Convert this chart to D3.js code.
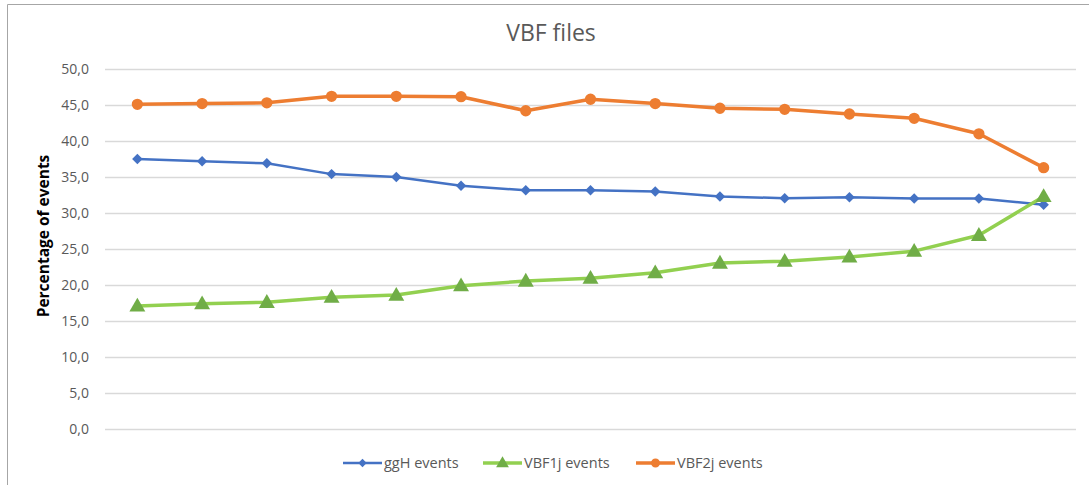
<!DOCTYPE html>
<html><head><meta charset="utf-8">
<script src="https://cdn.jsdelivr.net/npm/d3@7"></script>
<style>body{margin:0;background:#fff;}svg{display:block;font-family:"Open Sans","Liberation Sans",sans-serif;}</style>
</head><body>
<svg id="c" width="1089" height="485"></svg>
<script>
const categories = d3.range(1, 16).map(String);
const ggH = [37.5, 37.2, 36.9, 35.4, 35.0, 33.8, 33.15, 33.15, 33.0, 32.3, 32.05, 32.2, 32.0, 32.0, 31.15];
const VBF1j = [17.1, 17.4, 17.6, 18.3, 18.6, 19.9, 20.55, 20.95, 21.7, 23.05, 23.3, 23.9, 24.7, 26.9, 32.3];
const VBF2j = [45.1, 45.2, 45.3, 46.2, 46.2, 46.15, 44.2, 45.8, 45.2, 44.55, 44.4, 43.75, 43.15, 41.0, 36.3];
const yTicks = [0, 5, 10, 15, 20, 25, 30, 35, 40, 45, 50];
const seriesNames = ["ggH events", "VBF1j events", "VBF2j events"];

const svg = d3.select("#c");
// frame
svg.append("path").attr("d", "M7.5,485 V4.5 H1089").attr("fill", "none").attr("stroke", "#a6a6a6").attr("stroke-width", 1);

const x = d3.scaleBand().domain(categories).range([105, 1076]);
const y = d3.scaleLinear().domain([0, 50]).range([429, 69]);
const fmt = d => d.toFixed(1).replace(".", ",");

// gridlines
const yAxis = d3.axisLeft(y).tickValues(yTicks).tickFormat(fmt).tickSize(-(1076 - 105)).tickPadding(16);
const ga = svg.append("g").attr("transform", "translate(105,0)").call(yAxis);
ga.select(".domain").remove();
ga.selectAll(".tick line").attr("stroke", "#d9d9d9").attr("stroke-width", 1.3);
ga.selectAll(".tick text").attr("fill", "#595959").attr("font-size", 14).attr("font-family", "'Open Sans','Liberation Sans',sans-serif");

// title
svg.append("text").attr("x", 551).attr("y", 41).attr("text-anchor", "middle")
  .attr("font-size", 23).attr("fill", "#595959").text("VBF files");
// y label
svg.append("text").attr("transform", "translate(49,236) rotate(-90)").attr("text-anchor", "middle")
  .attr("font-size", 15.5).attr("font-weight", "bold").attr("fill", "#000").text("Percentage of events");

const cx = (d, i) => x(categories[i]) + x.bandwidth() / 2;
const line = d3.line().x((d, i) => cx(d, i)).y(d => y(d));

const series = [
  {name: seriesNames[0], data: ggH, color: "#4472C4", mcolor: "#4472C4", w: 2.5, marker: "diamond"},
  {name: seriesNames[1], data: VBF1j, color: "#92D050", mcolor: "#70AD47", w: 3.5, marker: "triangle"},
  {name: seriesNames[2], data: VBF2j, color: "#ED7D31", mcolor: "#ED7D31", w: 3.5, marker: "circle"}
];
const symbolOf = m => m === "diamond" ? d3.symbol().type(d3.symbolSquare).size(55)
  : m === "triangle" ? d3.symbol().type(d3.symbolTriangle).size(110)
  : d3.symbol().type(d3.symbolCircle).size(100);
const rot = m => m === "diamond" ? " rotate(45)" : "";

series.forEach(s => {
  svg.append("path").datum(s.data).attr("d", line).attr("fill", "none")
    .attr("stroke", s.color).attr("stroke-width", s.w).attr("stroke-linejoin", "round");
});
series.forEach(s => {
  svg.append("g").selectAll("path").data(s.data).join("path")
    .attr("d", symbolOf(s.marker))
    .attr("transform", (d, i) => `translate(${cx(d, i)},${y(d) + (s.marker === "triangle" ? 1 : 0)})${rot(s.marker)}`)
    .attr("fill", s.mcolor);
});

// legend
const legX = [343, 483, 636];
series.forEach((s, i) => {
  const g = svg.append("g").attr("transform", `translate(${legX[i]},463)`);
  g.append("line").attr("x1", 0).attr("x2", 39).attr("stroke", s.color).attr("stroke-width", s.w);
  g.append("path").attr("d", symbolOf(s.marker)).attr("transform", `translate(19.5,${s.marker === "triangle" ? 0.5 : 0})${rot(s.marker)} scale(0.8)`).attr("fill", s.mcolor);
  g.append("text").attr("x", 41).attr("y", 5).attr("font-size", 14.5).attr("fill", "#595959").text(s.name);
});
</script>
</body></html>
